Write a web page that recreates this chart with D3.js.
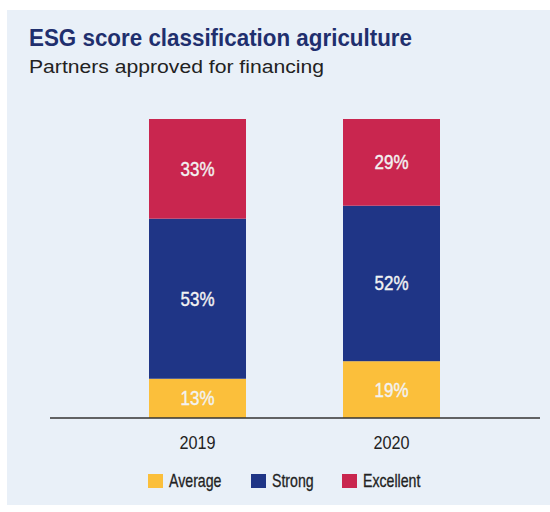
<!DOCTYPE html>
<html>
<head>
<meta charset="utf-8">
<script src="https://cdn.jsdelivr.net/npm/d3@7"></script>
<style>
  body { margin: 0; background: #fff; }
  svg text { font-family: "Liberation Sans", Arial, Helvetica, sans-serif; }
</style>
</head>
<body>
<script>
// data
var years = ["2019", "2020"];
var categories = ["Average", "Strong", "Excellent"];
var average = [13, 19];
var strong = [53, 52];
var excellent = [33, 29];
var colors = ["#fbbf3b", "#1f3586", "#c9264f"];

var width = 550;
var height = 512;

var svg = d3.select("body")
            .append("svg")
            .attr("width", width)
            .attr("height", height);

// squeeze text horizontally to mimic a condensed face
var condense = function(sel, k) {
  sel.each(function() {
    var w = this.getComputedTextLength();
    d3.select(this)
      .attr("textLength", w * k)
      .attr("lengthAdjust", "spacingAndGlyphs");
  });
};

// light panel
svg.append("rect")
   .attr("x", 7)
   .attr("y", 10)
   .attr("width", width - 7)
   .attr("height", 495)
   .attr("fill", "#e9f0f8");

svg.append("text")
   .attr("x", 29)
   .attr("y", 46)
   .attr("font-size", 24.5)
   .attr("font-weight", "bold")
   .attr("fill", "#1f2f6e")
   .attr("textLength", 383)
   .attr("lengthAdjust", "spacingAndGlyphs")
   .text("ESG score classification agriculture");

svg.append("text")
   .attr("x", 29)
   .attr("y", 73)
   .attr("font-size", 17.5)
   .attr("fill", "#222")
   .attr("textLength", 295)
   .attr("lengthAdjust", "spacingAndGlyphs")
   .text("Partners approved for financing");

var rows = years.map(function(y, i) {
  return { year: y, Average: average[i], Strong: strong[i], Excellent: excellent[i] };
});

var series = d3.stack()
               .keys(categories)
               .offset(d3.stackOffsetExpand)(rows);

var xScale = d3.scaleBand()
               .domain(years)
               .range([100.5, 488.5])
               .paddingInner(0.5)
               .paddingOuter(0.25);

var yScale = d3.scaleLinear()
               .domain([0, 1])
               .range([418, 119]);

var groups = svg.selectAll("g.series")
                .data(series)
                .enter()
                .append("g")
                .attr("class", "series")
                .attr("fill", function(d, i) { return colors[i]; });

groups.selectAll("rect")
      .data(function(d) { return d; })
      .enter()
      .append("rect")
      .attr("x", function(d) { return xScale(d.data.year); })
      .attr("y", function(d) { return yScale(d[1]); })
      .attr("height", function(d) { return yScale(d[0]) - yScale(d[1]); })
      .attr("width", xScale.bandwidth());

var labels = groups.selectAll("text")
      .data(function(d) {
        return d.map(function(p) { p.key = d.key; return p; });
      })
      .enter()
      .append("text")
      .attr("x", function(d) { return xScale(d.data.year) + xScale.bandwidth() / 2; })
      .attr("y", function(d) { return (yScale(d[0]) + yScale(d[1])) / 2; })
      .attr("dy", "0.36em")
      .attr("text-anchor", "middle")
      .attr("font-size", 19.5)
      .attr("fill", "#f2f2f2")
      .style("paint-order", "stroke")
      .attr("stroke", "#f2f2f2")
      .attr("stroke-width", 0.4)
      .text(function(d) { return d.data[d.key] + "%"; });
condense(labels, 0.87);

// baseline + year labels
var xAxis = d3.axisBottom()
              .scale(xScale)
              .tickSize(0)
              .tickPadding(18);

var axisG = svg.append("g")
               .attr("transform", "translate(0,418)")
               .call(xAxis);

axisG.select(".domain").remove();
axisG.append("line")
     .attr("x1", 50)
     .attr("x2", 540)
     .attr("stroke", "#333")
     .attr("stroke-width", 1.5);

var tickText = axisG.selectAll(".tick text")
     .attr("font-size", 18)
     .attr("fill", "#222")
     .style("font-family", "'Liberation Sans', Arial, sans-serif");
condense(tickText, 0.9);

// legend
var legendX = [148, 251, 342];
var legend = svg.selectAll("g.legend")
                .data(categories)
                .enter()
                .append("g")
                .attr("class", "legend")
                .attr("transform", function(d, i) { return "translate(" + legendX[i] + ",473)"; });

legend.append("rect")
      .attr("y", 1)
      .attr("width", 15)
      .attr("height", 14)
      .attr("fill", function(d, i) { return colors[i]; });

var legendText = legend.append("text")
      .attr("x", 21)
      .attr("y", 14)
      .attr("font-size", 18.5)
      .attr("fill", "#222")
      .attr("stroke", "#222")
      .attr("stroke-width", 0.3)
      .text(function(d) { return d; });
condense(legendText, 0.765);
</script>
</body>
</html>
